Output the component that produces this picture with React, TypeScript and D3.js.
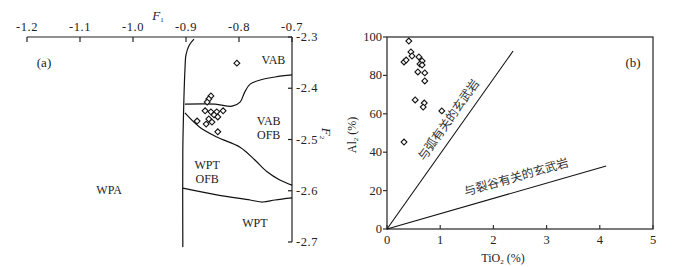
import React from "react";
import * as d3 from "d3";

// ---- panel (a): F1-F2 discrimination diagram ----
const f1Ticks = [-1.2, -1.1, -1.0, -0.9, -0.8, -0.7];
const f2Ticks = [-2.3, -2.4, -2.5, -2.6, -2.7];

// field boundaries [F1, F2]
const boundWpa: [number, number][] = [
  [-0.885, -2.304], [-0.894, -2.316], [-0.9, -2.335], [-0.902, -2.364],
  [-0.904, -2.423], [-0.906, -2.52], [-0.906, -2.71],
];
const boundVab: [number, number][] = [
  [-0.902, -2.431], [-0.845, -2.431], [-0.813, -2.435], [-0.798, -2.427],
  [-0.789, -2.407], [-0.779, -2.392], [-0.76, -2.384], [-0.732, -2.378], [-0.7, -2.374],
];
const boundOfb: [number, number][] = [
  [-0.902, -2.448], [-0.874, -2.476], [-0.842, -2.495], [-0.798, -2.515],
  [-0.77, -2.54], [-0.747, -2.563], [-0.723, -2.579], [-0.7, -2.589],
];
const boundWpt: [number, number][] = [
  [-0.906, -2.595], [-0.842, -2.608], [-0.779, -2.618], [-0.755, -2.622],
  [-0.732, -2.618], [-0.7, -2.614],
];

const samplesA: [number, number][] = [
  [-0.804, -2.351], [-0.853, -2.415], [-0.857, -2.421], [-0.86, -2.427],
  [-0.864, -2.444], [-0.853, -2.446], [-0.842, -2.446], [-0.83, -2.444],
  [-0.847, -2.452], [-0.84, -2.456], [-0.857, -2.46], [-0.879, -2.464],
  [-0.862, -2.47], [-0.851, -2.466], [-0.84, -2.485],
];

const fieldLabels = [
  { f1: -0.735, f2: -2.353, lines: ["VAB"] },
  { f1: -0.744, f2: -2.471, lines: ["VAB", "OFB"] },
  { f1: -0.86, f2: -2.557, lines: ["WPT", "OFB"] },
  { f1: -1.045, f2: -2.606, lines: ["WPA"] },
  { f1: -0.77, f2: -2.671, lines: ["WPT"] },
];

// ---- panel (b): TiO2 vs Al ----
const tiTicks = [0, 1, 2, 3, 4, 5];
const alTicks = [0, 20, 40, 60, 80, 100];

const samplesB: [number, number][] = [
  [0.41, 97.9], [0.45, 92.2], [0.47, 90.1], [0.32, 87.0], [0.36, 88.0],
  [0.6, 89.6], [0.66, 87.5], [0.62, 85.9], [0.66, 85.4], [0.58, 81.8],
  [0.71, 81.3], [0.71, 77.1], [0.53, 67.2], [0.7, 65.6], [0.68, 63.5],
  [1.03, 61.5], [0.32, 45.3],
];

const arcLine: [number, number][] = [[0, 0], [2.37, 92.7]];
const riftLine: [number, number][] = [[0, 0], [4.12, 32.8]];

const SERIF = "'Liberation Serif', 'DejaVu Serif', serif";
const CJK = "'Noto Sans CJK SC', sans-serif";
const INK = "#222";

export default function App() {
  // panel (a) scales
  const xA = d3.scaleLinear().domain([-1.2, -0.7]).range([27, 292]);
  const yA = d3.scaleLinear().domain([-2.3, -2.7]).range([37, 242]);
  const lineA = d3
    .line<[number, number]>()
    .x((d) => xA(d[0]))
    .y((d) => yA(d[1]))
    .curve(d3.curveCatmullRom.alpha(0.5));

  // panel (b) scales
  const xB = d3.scaleLinear().domain([0, 5]).range([387, 653]);
  const yB = d3.scaleLinear().domain([0, 100]).range([229, 37]);
  const lineB = d3
    .line<[number, number]>()
    .x((d) => xB(d[0]))
    .y((d) => yB(d[1]));

  const diamond = d3.symbol().type(d3.symbolSquare).size(17)() as string;

  // label placement along the discrimination lines
  const angleOf = (l: [number, number][]) =>
    (Math.atan2(yB(l[1][1]) - yB(l[0][1]), xB(l[1][0]) - xB(l[0][0])) * 180) / Math.PI;

  const fmt = (t: number) => d3.format(".1f")(t).replace("−", "-");

  return (
    <svg
      width={679}
      height={267}
      style={{ position: "absolute", left: 0, top: 0, background: "#fff" }}
      fontFamily={SERIF}
    >
      {/* ===== panel (a) ===== */}
      <g>
        {/* top axis */}
        <line x1={xA(-1.2)} x2={xA(-0.7)} y1={yA(-2.3)} y2={yA(-2.3)} stroke={INK} strokeWidth={1.2} />
        {f1Ticks.map((t) => (
          <g key={"f1" + t}>
            <line x1={xA(t)} x2={xA(t)} y1={yA(-2.3)} y2={yA(-2.3) + 5} stroke={INK} strokeWidth={1.2} />
            <text x={xA(t)} y={yA(-2.3) - 6} fontSize={12.5} letterSpacing={0.6} textAnchor="middle" fill={INK}>
              {fmt(t)}
            </text>
          </g>
        ))}
        <text x={158} y={20} fontSize={13} fill={INK} textAnchor="middle">
          <tspan fontStyle="italic">F</tspan>
          <tspan fontSize={7} dy={2}>1</tspan>
        </text>

        {/* right axis */}
        <line x1={xA(-0.7)} x2={xA(-0.7)} y1={yA(-2.3)} y2={yA(-2.7)} stroke={INK} strokeWidth={1.2} />
        {f2Ticks.map((t) => (
          <g key={"f2" + t}>
            <line x1={xA(-0.7) - 4} x2={xA(-0.7)} y1={yA(t)} y2={yA(t)} stroke={INK} strokeWidth={1.2} />
            <text x={xA(-0.7) + 4} y={yA(t) + 4} fontSize={12.5} letterSpacing={0.6} fill={INK}>
              {fmt(t)}
            </text>
          </g>
        ))}
        <text transform={`translate(322,${yA(-2.5) - 6}) rotate(90)`} fontSize={13} fill={INK} textAnchor="middle">
          <tspan fontStyle="italic">F</tspan>
          <tspan fontSize={7} dy={2}>2</tspan>
        </text>

        {/* field boundaries */}
        {[boundWpa, boundVab, boundOfb, boundWpt].map((b, i) => (
          <path key={"b" + i} d={lineA(b) || ""} fill="none" stroke="#111" strokeWidth={1.2} />
        ))}

        {/* field labels */}
        {fieldLabels.map((f, i) => (
          <text key={"fl" + i} x={xA(f.f1)} y={yA(f.f2)} fontSize={12} textAnchor="middle" fill={INK}>
            {f.lines.map((s, j) => (
              <tspan key={j} x={xA(f.f1)} dy={j === 0 ? 0 : 14}>
                {s}
              </tspan>
            ))}
          </text>
        ))}
        <text x={44} y={67} fontSize={13} textAnchor="middle" fill={INK}>(a)</text>

        {samplesA.map((d, i) => (
          <path
            key={"sa" + i}
            d={diamond}
            transform={`translate(${xA(d[0])},${yA(d[1])}) rotate(45)`}
            fill="#fff"
            stroke="#111"
            strokeWidth={1.1}
          />
        ))}
      </g>

      {/* ===== panel (b) ===== */}
      <g>
        <rect x={xB(0)} y={yB(100)} width={xB(5) - xB(0)} height={yB(0) - yB(100)} fill="none" stroke="#333" strokeWidth={1.3} />
        {tiTicks.map((t) => (
          <g key={"ti" + t}>
            <line x1={xB(t)} x2={xB(t)} y1={yB(0)} y2={yB(0) - 4} stroke="#333" strokeWidth={1.2} />
            <text x={xB(t)} y={yB(0) + 15} fontSize={12.5} textAnchor="middle" fill={INK}>{t}</text>
          </g>
        ))}
        {alTicks.map((t) => (
          <g key={"al" + t}>
            <line x1={xB(0) - 4} x2={xB(0)} y1={yB(t)} y2={yB(t)} stroke="#333" strokeWidth={1.2} />
            <text x={xB(0) - 5} y={yB(t) + 4} fontSize={12.5} textAnchor="end" fill={INK}>{t}</text>
          </g>
        ))}
        <text x={503} y={262} fontSize={12} textAnchor="middle" fill={INK}>
          TiO<tspan fontSize={7} dy={2}>2</tspan>
          <tspan dy={-2}> (%)</tspan>
        </text>
        <text transform={`translate(356,${(yB(0) + yB(100)) / 2 + 2}) rotate(-90)`} fontSize={12} textAnchor="middle" fill={INK}>
          Al<tspan fontSize={7} dy={2}>2</tspan>
          <tspan dy={-2}> (%)</tspan>
        </text>
        <text x={633} y={67} fontSize={13} textAnchor="middle" fill={INK}>(b)</text>

        <path d={lineB(arcLine) || ""} stroke="#111" strokeWidth={1.1} fill="none" />
        <path d={lineB(riftLine) || ""} stroke="#111" strokeWidth={1.1} fill="none" />

        <text
          transform={`translate(${xB(1.22)},${yB(55.5)}) rotate(${angleOf(arcLine)})`}
          fontFamily={CJK}
          fontSize={12}
          textAnchor="middle"
          fill="#333"
        >
          与弧有关的玄武岩
        </text>
        <text
          transform={`translate(${xB(2.45)},${yB(25)}) rotate(${angleOf(riftLine)})`}
          fontFamily={CJK}
          fontSize={12}
          textAnchor="middle"
          fill="#333"
        >
          与裂谷有关的玄武岩
        </text>

        {samplesB.map((d, i) => (
          <path
            key={"sb" + i}
            d={diamond}
            transform={`translate(${xB(d[0])},${yB(d[1])}) rotate(45)`}
            fill="#fff"
            stroke="#111"
            strokeWidth={1.1}
          />
        ))}
      </g>
    </svg>
  );
}
